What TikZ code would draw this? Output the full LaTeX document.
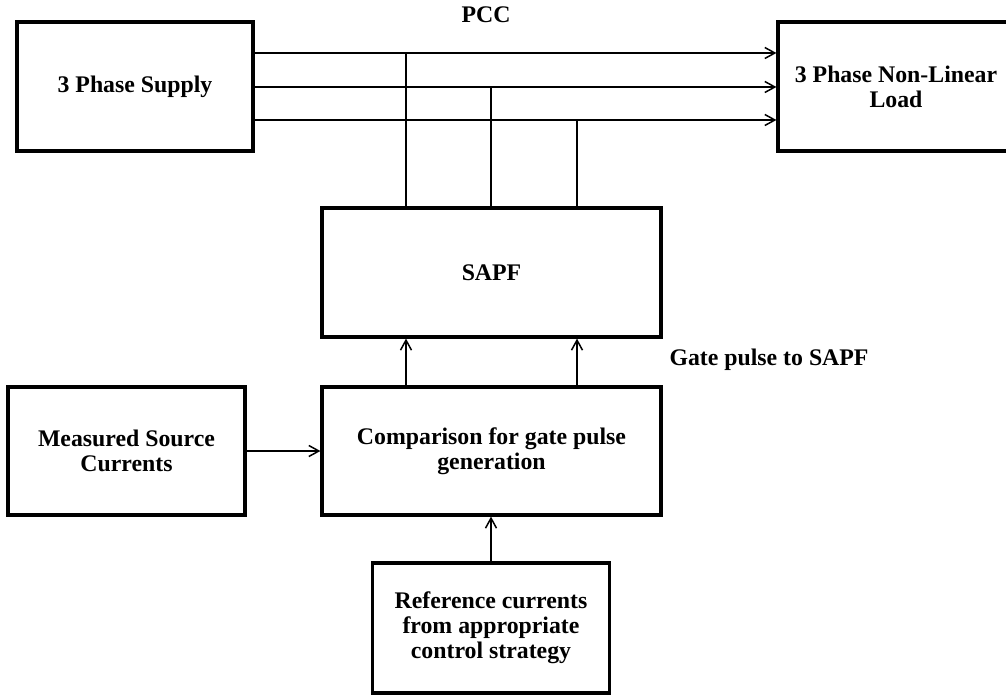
\documentclass[tikz,border=0pt]{standalone}
\usepackage{fontspec}
\setmainfont{Liberation Serif}
\usetikzlibrary{arrows.meta}
\tikzset{
  blk/.style={draw, line width=3.2pt, rectangle, inner sep=0pt, align=center,
    font=\fontsize{23.8}{25}\selectfont\bfseries},
  wire/.style={line width=1.5pt},
  arr/.style={wire, -{Straight Barb[length=10pt,width=11pt,line width=1.5pt]}},
  lbl/.style={inner sep=0pt, font=\fontsize{23.8}{25}\selectfont\bfseries}
}
\begin{document}
\begin{tikzpicture}[x=1pt,y=-1pt]
\useasboundingbox (0,0) rectangle (1006,695);
\node[blk, minimum width=236pt, minimum height=129pt] (supply) at (135,86.5) {3 Phase Supply};
\node[blk, minimum width=236pt, minimum height=129pt] (load) at (896,86.5) {3 Phase Non-Linear\\Load};
\node[blk, minimum width=339pt, minimum height=129pt] (sapf) at (491.5,272.5) {SAPF};
\node[blk, minimum width=339pt, minimum height=128pt] (comp) at (491.5,451) {Comparison for gate pulse\\generation};
\node[blk, minimum width=237pt, minimum height=128pt] (meas) at (126.5,451) {Measured Source\\Currents};
\node[blk, minimum width=237pt, minimum height=130pt] (ref) at (491,628) {Reference currents\\from appropriate\\control strategy};
\node[lbl] (pcc) at (486,15) {PCC};
\node[lbl] (gate) at (769,360) {Gate pulse to SAPF};
% phase lines
\coordinate (l1s) at ([yshift=33.5pt]supply.east);
\coordinate (l2s) at ([yshift=-0.5pt]supply.east);
\coordinate (l3s) at ([yshift=-33.5pt]supply.east);
\coordinate (l1e) at ([yshift=33.5pt]load.west);
\coordinate (l2e) at ([yshift=-0.5pt]load.west);
\coordinate (l3e) at ([yshift=-33.5pt]load.west);
\draw[arr] (l1s) -- (l1e);
\draw[arr] (l2s) -- (l2e);
\draw[arr] (l3s) -- (l3e);
% taps to SAPF
\coordinate (t1) at ([xshift=-85.5pt]sapf.north);
\coordinate (t2) at ([xshift=-0.5pt]sapf.north);
\coordinate (t3) at ([xshift=85.5pt]sapf.north);
\draw[wire] (t1) -- (t1 |- l1s);
\draw[wire] (t2) -- (t2 |- l2s);
\draw[wire] (t3) -- (t3 |- l3s);
% gate pulses
\coordinate (g1) at ([xshift=-85.5pt]comp.north);
\coordinate (g2) at ([xshift=85.5pt]comp.north);
\draw[arr] (g1) -- (g1 |- sapf.south);
\draw[arr] (g2) -- (g2 |- sapf.south);
% measured and reference
\draw[arr] (meas.east) -- (comp.west);
\draw[arr] (ref.north) -- (ref.north |- comp.south);
\end{tikzpicture}
\end{document}
